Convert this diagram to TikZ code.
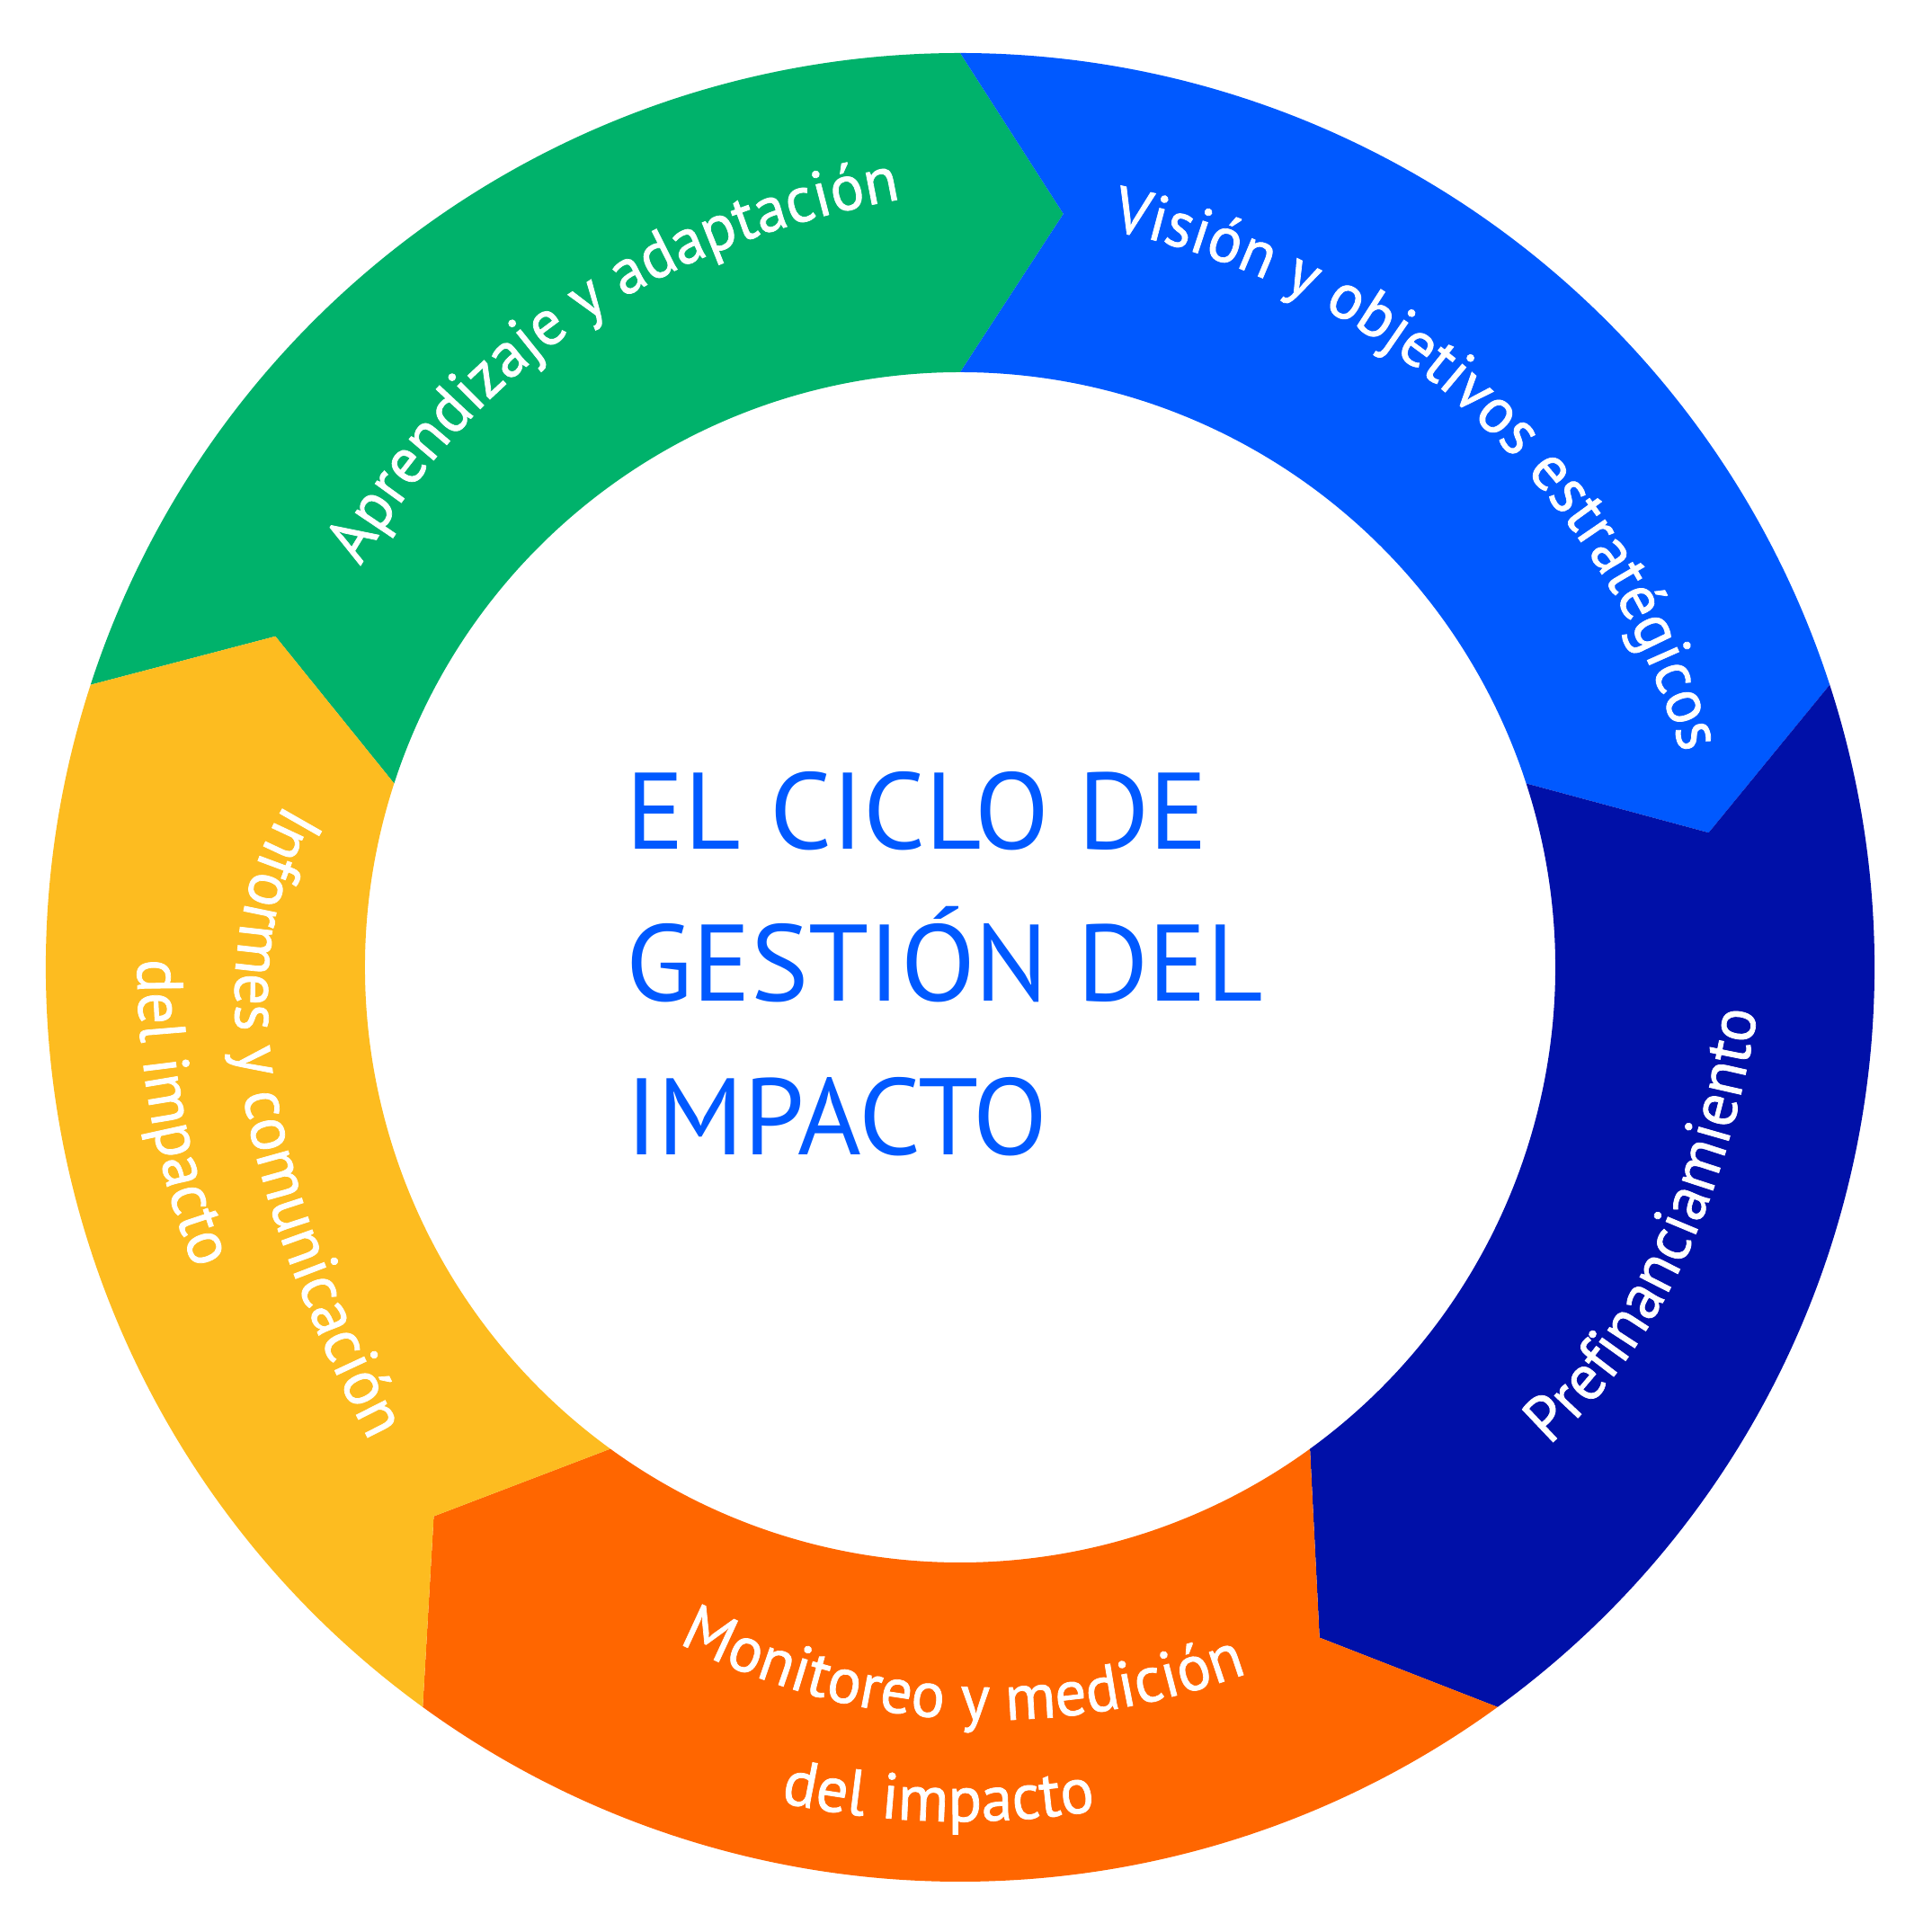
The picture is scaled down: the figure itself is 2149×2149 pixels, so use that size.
\documentclass[tikz,border=0pt]{standalone}
\usepackage{fontspec}
\setmainfont{PT Sans}
\newfontfamily\lblfam[FakeStretch=0.97,FakeBold=1]{PT Sans}
\usetikzlibrary{decorations.text}
\definecolor{cgreen}{HTML}{00B26B}
\definecolor{cblue}{HTML}{0059FF}
\definecolor{cdark}{HTML}{0010A8}
\definecolor{corange}{HTML}{FF6600}
\definecolor{cyellow}{HTML}{FDBC20}
\newcommand{\lblfont}{\color{white}\lblfam\fontsize{20.5}{24}\selectfont}
\newcommand{\Ro}{1017}
\newcommand{\Ri}{662}
\newcommand{\Rm}{846}
\newcommand{\Tip}{7.8}
\newcommand{\ringseg}[3]{%
  \path[segfill=#1] (#2:\Ro) arc[start angle=#2, end angle=#3, radius=\Ro]
    -- ({#3-\Tip}:\Rm) -- (#3:\Ri) arc[start angle=#3, end angle=#2, radius=\Ri]
    -- ({#2-\Tip}:\Rm) -- cycle;}
\tikzset{
  segfill/.style={fill=#1, draw=none},
  curvelabel/.style={decorate, decoration={text along path, text align=center, text={|\lblfont|#1}}},
  title/.style={anchor=base west, inner sep=0pt, text=cblue, font=\fontsize{34.4}{40}\selectfont}
}
\begin{document}
\begin{tikzpicture}[x=0.01cm,y=0.01cm]
\useasboundingbox (-1068,-1073) rectangle (1081,1076);
\ringseg{cgreen}{162}{90}
\ringseg{cblue}{90}{18}
\ringseg{cdark}{18}{-54}
\ringseg{corange}{-54}{-126}
\ringseg{cyellow}{-126}{-198}
% curved labels
\path[curvelabel={Aprendizaje y adaptación}] (-716.5,361.7) -- (-666,448) .. controls (-535.6,670.8) and (-336.3,806.1) .. (-68,854) -- (30.4,871.6);
\path[curvelabel={Visión y objetivos estratégicos}] (87.5:837) arc[start angle=87.5, end angle=7.5, radius=837];
\path[curvelabel={Prefinanciamiento}] (578.4,-598.8) -- (653.7,-533) .. controls (773.7,-428.1) and (851.4,-266.3) .. (887,-47.6) -- (903,51.1);
\path[curvelabel={Monitoreo y medición}] (-406,-704.6) -- (-316.8,-749.8) .. controls (-112.5,-853.3) and (100.8,-864.7) .. (323.2,-784) -- (417.2,-749.9);
\path[curvelabel={del impacto}] (-121.5:950) arc[start angle=-121.5, end angle=-61.5, radius=950];
\path[curvelabel={Informes y comunicación}] (-698,268) -- (-750,183) .. controls (-849,21) and (-818,-216) .. (-657,-527) -- (-611,-616);
\path[curvelabel={del impacto}] (160.5:915) arc[start angle=160.5, end angle=220.5, radius=915];
% title
\node[title] (t1) at (-372,131) {EL CICLO DE};
\node[title] (t2) at (-372,-38) {GESTIÓN DEL};
\node[title] (t3) at (-372,-209) {IMPACTO};
\end{tikzpicture}
\end{document}
